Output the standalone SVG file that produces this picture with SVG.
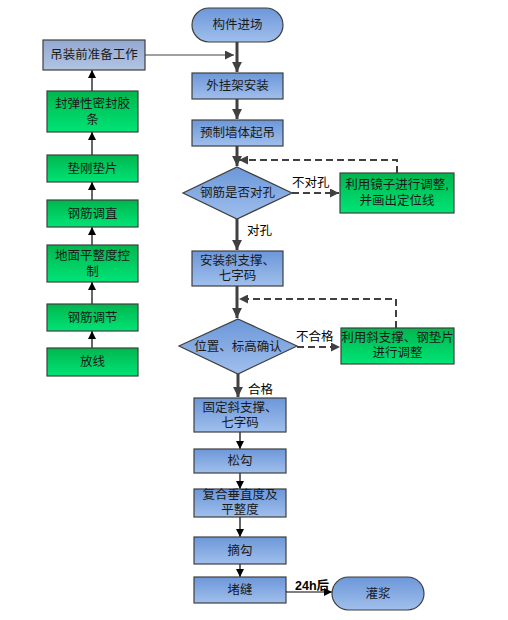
<svg xmlns="http://www.w3.org/2000/svg" width="508" height="620" viewBox="0 0 508 620">
<defs>
<linearGradient id="gb" x1="0" y1="0" x2="0" y2="1"><stop offset="0" stop-color="#6c97d9"/><stop offset="1" stop-color="#a0bfec"/></linearGradient>
<linearGradient id="gg" x1="0" y1="0" x2="0" y2="1"><stop offset="0" stop-color="#00b64e"/><stop offset="1" stop-color="#00e476"/></linearGradient>
<linearGradient id="gp" x1="0" y1="0" x2="0" y2="1"><stop offset="0" stop-color="#93a9d2"/><stop offset="1" stop-color="#b3c4e2"/></linearGradient>
<marker id="ah" viewBox="0 0 10 10" refX="10" refY="5" markerWidth="3.3" markerHeight="3.3" orient="auto" markerUnits="strokeWidth"><path d="M0,0L10,5L0,10z" fill="#404040"/></marker>
<marker id="ahb" viewBox="0 0 10 10" refX="10" refY="5" markerWidth="8" markerHeight="8" orient="auto" markerUnits="userSpaceOnUse"><path d="M0,0L10,5L0,10z" fill="#000"/></marker>
<marker id="ahg" viewBox="0 0 10 10" refX="10" refY="5" markerWidth="9" markerHeight="9" orient="auto" markerUnits="userSpaceOnUse"><path d="M0,0L10,5L0,10z" fill="#404040"/></marker>
</defs>
<style>
.b{fill:url(#gb);stroke:#3f3f3f;stroke-width:1.2}
.g{fill:url(#gg);stroke:#3f3f3f;stroke-width:1.2}
.p{fill:url(#gp);stroke:#3f3f3f;stroke-width:1.2}
text{font-family:"Liberation Sans","Noto Sans CJK SC",sans-serif;font-size:12.5px;fill:#1a1a1a;text-anchor:middle}
.lb{text-anchor:start;fill:#000}
.thick{stroke:#404040;stroke-width:3;fill:none;marker-end:url(#ah)}
.thin{stroke:#000;stroke-width:1.2;fill:none;marker-end:url(#ahb)}
.dash{stroke:#404040;stroke-width:2;fill:none;stroke-dasharray:7,4;marker-end:url(#ahg)}
</style>
<rect width="508" height="620" fill="#fff"/>
<g id="connectors">
<line class="thick" x1="237" y1="42" x2="237" y2="72"/>
<line class="thick" x1="237" y1="99" x2="237" y2="119"/>
<line class="thick" x1="237" y1="146" x2="237" y2="166"/>
<line class="thick" x1="237" y1="219" x2="237" y2="250"/>
<line class="thick" x1="237" y1="286" x2="237" y2="318"/>
<line class="thick" x1="238" y1="374" x2="238" y2="397"/>
<line stroke="#404040" stroke-width="1.2" x1="145" y1="55" x2="234" y2="55" marker-end="url(#ahg)"/>
<line class="thin" x1="240" y1="432" x2="240" y2="449"/>
<line class="thin" x1="240" y1="473" x2="240" y2="489"/>
<line class="thin" x1="240" y1="517" x2="240" y2="537"/>
<line class="thin" x1="240" y1="564" x2="240" y2="577"/>
<polyline class="thin" points="286,591 286,592 332,592"/>
<line class="thin" x1="92" y1="348" x2="92" y2="331"/>
<line class="thin" x1="92" y1="304" x2="92" y2="282"/>
<line class="thin" x1="92" y1="245" x2="92" y2="227"/>
<line class="thin" x1="92" y1="200" x2="92" y2="182"/>
<line class="thin" x1="92" y1="155" x2="92" y2="132"/>
<line class="thin" x1="92" y1="91" x2="92" y2="70"/>
<line class="dash" x1="292" y1="193" x2="339" y2="193"/>
<polyline class="dash" points="397,173 397,160 239,160"/>
<line class="dash" x1="297" y1="347" x2="340" y2="347"/>
<polyline class="dash" points="396,328 396,299 239,299"/>
</g>
<g id="n_start"><rect class="b" x="192" y="8" width="91" height="34" rx="17"/><text x="237.5" y="29">构件进场</text></g>
<g id="n_prep"><rect class="p" x="43" y="40" width="102" height="30"/><text x="94" y="59">吊装前准备工作</text></g>
<g id="n_waigua"><rect class="b" x="192" y="73" width="91" height="26"/><text x="237.5" y="90">外挂架安装</text></g>
<g id="n_diao"><rect class="b" x="192" y="120" width="91" height="26"/><text x="237.5" y="137">预制墙体起吊</text></g>
<g id="n_d1"><polygon class="b" points="237,167 292,193 237,219 183,193"/><text x="237.5" y="197">钢筋是否对孔</text></g>
<g id="n_fix1"><rect class="g" x="340" y="173" width="114" height="40"/><text x="397" y="189">利用镜子进行调整,</text><text x="397" y="205">并画出定位线</text></g>
<g id="n_zhicheng"><rect class="b" x="192" y="251" width="91" height="35"/><text x="237.5" y="265">安装斜支撑、</text><text x="237.5" y="280">七字码</text></g>
<g id="n_d2"><polygon class="b" points="238,319 297,346 238,374 179,346"/><text x="238" y="351">位置、标高确认</text></g>
<g id="n_fix2"><rect class="g" x="341" y="328" width="113" height="36"/><text x="397.5" y="342">利用斜支撑、钢垫片</text><text x="397.5" y="357">进行调整</text></g>
<g id="n_guding"><rect class="b" x="194" y="398" width="92" height="34"/><text x="240" y="412">固定斜支撑、</text><text x="240" y="427">七字码</text></g>
<g id="n_song"><rect class="b" x="194" y="449" width="92" height="24"/><text x="240" y="465">松勾</text></g>
<g id="n_fuhe"><rect class="b" x="194" y="489" width="92" height="28"/><text x="240" y="499">复合垂直度及</text><text x="240" y="514">平整度</text></g>
<g id="n_zhai"><rect class="b" x="194" y="537" width="92" height="27"/><text x="240" y="555">摘勾</text></g>
<g id="n_dufeng"><rect class="b" x="194" y="577" width="92" height="26"/><text x="240" y="594">堵缝</text></g>
<g id="n_end"><rect class="b" x="332" y="577" width="92" height="33" rx="16.5"/><text x="378" y="598">灌浆</text></g>
<g id="n_l1"><rect class="g" x="47" y="91" width="91" height="41"/><text x="92.5" y="108">封弹性密封胶</text><text x="92.5" y="124">条</text></g>
<g id="n_l2"><rect class="g" x="47" y="155" width="91" height="27"/><text x="92.5" y="173">垫刚垫片</text></g>
<g id="n_l3"><rect class="g" x="47" y="200" width="91" height="27"/><text x="92.5" y="218">钢筋调直</text></g>
<g id="n_l4"><rect class="g" x="47" y="245" width="91" height="37"/><text x="92.5" y="260">地面平整度控</text><text x="92.5" y="276">制</text></g>
<g id="n_l5"><rect class="g" x="47" y="304" width="91" height="27"/><text x="92.5" y="322">钢筋调节</text></g>
<g id="n_l6"><rect class="g" x="47" y="348" width="91" height="28"/><text x="92.5" y="366">放线</text></g>
<g id="labels">
<text class="lb" x="292" y="187">不对孔</text>
<text class="lb" x="247" y="235">对孔</text>
<text class="lb" x="296" y="341">不合格</text>
<text class="lb" x="248" y="394">合格</text>
<text class="lb" x="295" y="590" font-weight="bold">24h后</text>
</g>
</svg>
